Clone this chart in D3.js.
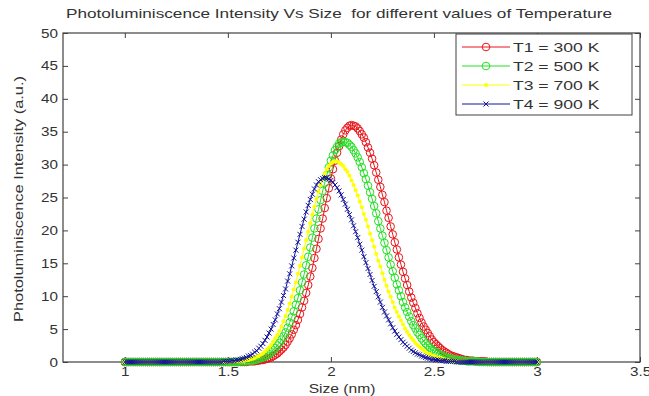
<!DOCTYPE html>
<html>
<head>
<meta charset="utf-8">
<script src="https://cdn.jsdelivr.net/npm/d3@7"></script>
<style>
  body { margin: 0; background: #fff; }
  text { font-family: "Liberation Sans", Arial, sans-serif; fill: #333; }
</style>
</head>
<body>
<div id="chart"></div>
<script>
// sizes 1.00 .. 3.00 nm, step 0.01 (201 points)
const sizes = d3.range(0, 201).map(i => +(1 + i * 0.01).toFixed(2));

// one row = 0.1 nm (10 points)
const t1 = [
  0,0,0,0,0,0,0,0,0,0,
  0,0,0,0,0,0,0,0,0,0,
  0,0,0,0,0,0,0,0,0,0,
  0,0,0,0,0,0,0,0,0,0,
  0,0,0,0,0,0,0,0,0,0,
  0,0,0,0,0,0,0,0,0,0,
  0.1,0.1,0.1,0.1,0.2,0.2,0.3,0.3,0.4,0.5,
  0.6,0.7,0.9,1.1,1.3,1.6,1.9,2.2,2.6,3.1,
  3.6,4.2,4.9,5.6,6.4,7.3,8.3,9.3,10.5,11.7,
  13.0,14.3,15.8,17.2,18.7,20.3,21.8,23.4,24.9,26.4,
  27.9,29.3,30.6,31.8,32.8,33.8,34.6,35.2,35.6,35.9,
  36.0,35.9,35.8,35.5,35.1,34.6,34.1,33.4,32.6,31.8,
  30.9,29.9,28.8,27.7,26.6,25.4,24.3,23.0,21.9,20.6,
  19.4,18.2,17.1,15.9,14.8,13.7,12.7,11.7,10.7,9.8,
  9.0,8.2,7.4,6.7,6.0,5.4,4.9,4.4,3.9,3.4,
  3.0,2.7,2.4,2.1,1.8,1.6,1.4,1.2,1.0,0.9,
  0.8,0.7,0.6,0.5,0.4,0.3,0.3,0.2,0.2,0.2,
  0.1,0.1,0.1,0.1,0.1,0.1,0,0,0,0,
  0,0,0,0,0,0,0,0,0,0,
  0,0,0,0,0,0,0,0,0,0,
  0];
const t2 = [
  0,0,0,0,0,0,0,0,0,0,
  0,0,0,0,0,0,0,0,0,0,
  0,0,0,0,0,0,0,0,0,0,
  0,0,0,0,0,0,0,0,0,0,
  0,0,0,0,0,0,0,0,0,0,
  0,0,0,0,0,0,0.1,0.1,0.1,0.1,
  0.2,0.2,0.2,0.3,0.4,0.5,0.6,0.7,0.8,1.0,
  1.2,1.5,1.8,2.1,2.5,2.9,3.4,3.9,4.5,5.2,
  6.0,6.8,7.7,8.7,9.7,10.9,12.1,13.3,14.7,16.0,
  17.4,18.9,20.3,21.8,23.2,24.6,26.0,27.2,28.4,29.6,
  30.6,31.4,32.2,32.7,33.2,33.4,33.5,33.4,33.3,33.0,
  32.7,32.2,31.7,31.1,30.4,29.6,28.7,27.8,26.8,25.8,
  24.8,23.7,22.6,21.4,20.3,19.2,18.1,17.0,15.9,14.8,
  13.8,12.8,11.8,10.9,10.0,9.1,8.3,7.6,6.9,6.2,
  5.6,5.1,4.5,4.1,3.6,3.2,2.8,2.5,2.2,1.9,
  1.7,1.5,1.3,1.1,1.0,0.8,0.7,0.6,0.5,0.4,
  0.4,0.3,0.3,0.2,0.2,0.2,0.1,0.1,0.1,0.1,
  0.1,0.1,0,0,0,0,0,0,0,0,
  0,0,0,0,0,0,0,0,0,0,
  0,0,0,0,0,0,0,0,0,0,
  0];
const t3 = [
  0,0,0,0,0,0,0,0,0,0,
  0,0,0,0,0,0,0,0,0,0,
  0,0,0,0,0,0,0,0,0,0,
  0,0,0,0,0,0,0,0,0,0,
  0,0,0,0,0,0,0,0,0,0,
  0,0,0.1,0.1,0.1,0.1,0.1,0.2,0.2,0.3,
  0.3,0.4,0.5,0.6,0.8,0.9,1.1,1.3,1.6,1.9,
  2.2,2.6,3.1,3.6,4.1,4.7,5.4,6.2,7.0,7.9,
  8.9,9.9,11.0,12.1,13.4,14.6,15.9,17.2,18.5,19.8,
  21.1,22.4,23.6,24.8,25.9,26.9,27.8,28.6,29.3,29.8,
  30.2,30.4,30.5,30.5,30.3,30.1,29.8,29.3,28.9,28.3,
  27.6,26.9,26.1,25.3,24.4,23.5,22.5,21.6,20.6,19.5,
  18.5,17.5,16.4,15.4,14.5,13.5,12.5,11.6,10.7,9.9,
  9.1,8.3,7.6,6.9,6.3,5.7,5.1,4.6,4.1,3.7,
  3.3,2.9,2.6,2.3,2.0,1.8,1.5,1.3,1.2,1.0,
  0.9,0.8,0.6,0.6,0.5,0.4,0.3,0.3,0.2,0.2,
  0.2,0.1,0.1,0.1,0.1,0.1,0.1,0,0,0,
  0,0,0,0,0,0,0,0,0,0,
  0,0,0,0,0,0,0,0,0,0,
  0,0,0,0,0,0,0,0,0,0,
  0];
const t4 = [
  0,0,0,0,0,0,0,0,0,0,
  0,0,0,0,0,0,0,0,0,0,
  0,0,0,0,0,0,0,0,0,0,
  0,0,0,0,0,0,0,0,0,0,
  0,0,0,0,0,0,0,0,0.1,0.1,
  0.1,0.1,0.2,0.2,0.3,0.3,0.4,0.5,0.6,0.7,
  0.9,1.0,1.2,1.5,1.7,2.1,2.4,2.8,3.3,3.8,
  4.4,5.0,5.7,6.4,7.3,8.1,9.1,10.1,11.1,12.3,
  13.4,14.6,15.8,17.0,18.2,19.4,20.6,21.7,22.8,23.8,
  24.7,25.5,26.3,26.9,27.4,27.7,27.9,28.0,28.0,27.8,
  27.6,27.3,26.9,26.5,26.0,25.4,24.7,24.0,23.2,22.4,
  21.6,20.7,19.8,18.9,17.9,17.0,16.0,15.1,14.2,13.3,
  12.4,11.5,10.7,9.9,9.1,8.3,7.6,7.0,6.4,5.8,
  5.2,4.7,4.2,3.8,3.4,3.0,2.7,2.4,2.1,1.8,
  1.6,1.4,1.2,1.1,0.9,0.8,0.7,0.6,0.5,0.4,
  0.4,0.3,0.3,0.2,0.2,0.2,0.1,0.1,0.1,0.1,
  0.1,0,0,0,0,0,0,0,0,0,
  0,0,0,0,0,0,0,0,0,0,
  0,0,0,0,0,0,0,0,0,0,
  0,0,0,0,0,0,0,0,0,0,
  0];

const seriesNames = ["T1 = 300 K", "T2 = 500 K", "T3 = 700 K", "T4 = 900 K"];
const seriesValues = [t1, t2, t3, t4];
const seriesColors = ["#e8141a", "#22e022", "#ffff00", "#14149a"];
const seriesMarkers = ["circle", "circle", "dot", "cross"];

const xTicks = [1, 1.5, 2, 2.5, 3, 3.5];
const yTicks = [0, 5, 10, 15, 20, 25, 30, 35, 40, 45, 50];

const W = 649, H = 396;
const margin = {top: 33, right: 9, bottom: 34, left: 63};
const width = W - margin.left - margin.right;
const height = H - margin.top - margin.bottom;

// the picture is a bit wider than the original figure, widen the glyphs to match
function stretch(sel, k) {
  sel.each(function() {
    const w = this.getComputedTextLength();
    d3.select(this).attr("textLength", w * k).attr("lengthAdjust", "spacingAndGlyphs");
  });
}

const root = d3.select("#chart")
  .append("svg")
  .attr("width", W)
  .attr("height", H);
const svg = root.append("g")
  .attr("transform", `translate(${margin.left}, ${margin.top})`);

const x = d3.scaleLinear().domain([0.7, 3.5]).range([0, width]);
const y = d3.scaleLinear().domain([0, 50]).range([height, 0]);

const axisColor = "#404040";

// bottom axis with labels, top axis ticks only
svg.append("g")
  .attr("transform", `translate(0, ${height})`)
  .call(d3.axisBottom(x).tickValues(xTicks).tickSizeInner(-5).tickSizeOuter(0).tickPadding(5).tickFormat(d3.format("")))
  .call(g => g.select(".domain").remove());
svg.append("g")
  .call(d3.axisTop(x).tickValues(xTicks).tickSizeInner(-5).tickSizeOuter(0).tickFormat(""))
  .call(g => g.select(".domain").remove());

// left axis with labels, right axis ticks only
svg.append("g")
  .call(d3.axisLeft(y).tickValues(yTicks).tickSizeInner(-5).tickSizeOuter(0).tickPadding(5))
  .call(g => g.select(".domain").remove());
svg.append("g")
  .attr("transform", `translate(${width}, 0)`)
  .call(d3.axisRight(y).tickValues(yTicks).tickSizeInner(-5).tickSizeOuter(0).tickFormat(""))
  .call(g => g.select(".domain").remove());

svg.selectAll(".tick line").attr("stroke", axisColor);
svg.selectAll(".tick text")
  .attr("font-family", null)
  .attr("font-size", null)
  .style("font-size", "12.5px")
  .attr("fill", "#333")
  .call(stretch, 1.22);

// box
svg.append("rect")
  .attr("width", width)
  .attr("height", height)
  .attr("fill", "none")
  .attr("stroke", axisColor)
  .attr("stroke-width", 1.2);

const line = d3.line()
  .x((d, i) => x(sizes[i]))
  .y(d => y(d));

function drawMarker(sel, type, color) {
  if (type === "circle") {
    sel.append("circle").attr("r", 3.8).attr("fill", "none").attr("stroke", color).attr("stroke-width", 1);
  } else if (type === "dot") {
    sel.append("circle").attr("r", 2).attr("fill", color);
  } else {
    sel.append("path").attr("d", "M-2.5,-2.5L2.5,2.5M-2.5,2.5L2.5,-2.5").attr("stroke", color).attr("stroke-width", 1);
  }
}

seriesValues.forEach((vals, k) => {
  const g = svg.append("g");
  g.append("path")
    .datum(vals)
    .attr("fill", "none")
    .attr("stroke", seriesColors[k])
    .attr("stroke-width", 1)
    .attr("d", line);
  g.selectAll(".m")
    .data(vals)
    .join("g")
      .attr("transform", (d, i) => `translate(${x(sizes[i])}, ${y(d)})`)
      .each(function() { drawMarker(d3.select(this), seriesMarkers[k], seriesColors[k]); });
});

// legend
const legend = svg.append("g")
  .attr("transform", `translate(${456 - margin.left}, ${34 - margin.top})`);
legend.append("rect")
  .attr("width", 176)
  .attr("height", 81)
  .attr("fill", "#fff")
  .attr("stroke", axisColor);
seriesNames.forEach((name, k) => {
  const row = legend.append("g").attr("transform", `translate(0, ${13 + k * 19})`);
  row.append("line").attr("x1", 6).attr("x2", 54).attr("stroke", seriesColors[k]);
  drawMarker(row.append("g").attr("transform", "translate(30,0)"), seriesMarkers[k], seriesColors[k]);
  row.append("text")
    .attr("x", 57)
    .attr("dy", "0.36em")
    .style("font-size", "13.5px")
    .text(name)
    .call(stretch, 1.3);
});

// title and axis labels
root.append("text")
  .attr("x", 339)
  .attr("y", 18)
  .attr("text-anchor", "middle")
  .attr("xml:space", "preserve")
  .style("white-space", "pre")
  .style("font-size", "13px")
  .text("Photoluminiscence Intensity Vs Size  for different values of Temperature")
  .attr("textLength", 546)
  .attr("lengthAdjust", "spacingAndGlyphs");
root.append("text")
  .attr("x", 342)
  .attr("y", 393)
  .attr("text-anchor", "middle")
  .style("font-size", "13px")
  .text("Size (nm)")
  .call(stretch, 1.2);
root.append("text")
  .attr("transform", "translate(23, 199) rotate(-90)")
  .attr("text-anchor", "middle")
  .style("font-size", "13px")
  .text("Photoluminiscence Intensity (a.u.)")
  .attr("textLength", 246)
  .attr("lengthAdjust", "spacingAndGlyphs");
</script>
</body>
</html>
